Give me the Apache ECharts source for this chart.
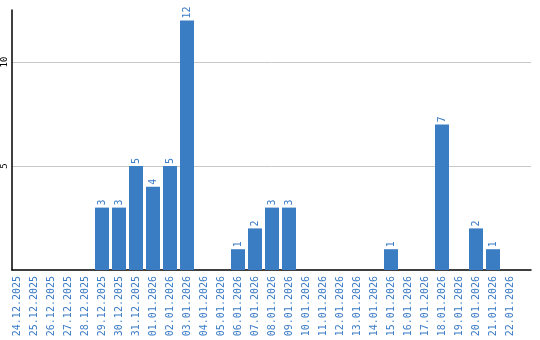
<!DOCTYPE html>
<html><head><meta charset="utf-8">
<script src="https://cdn.jsdelivr.net/npm/echarts@6/dist/echarts.min.js"></script>
<style>html,body{margin:0;padding:0;background:#fff}#c{width:540px;height:340px}</style>
</head><body><div id="c"></div>
<script>
const categories = ["24.12.2025","25.12.2025","26.12.2025","27.12.2025","28.12.2025","29.12.2025","30.12.2025","31.12.2025","01.01.2026","02.01.2026","03.01.2026","04.01.2026","05.01.2026","06.01.2026","07.01.2026","08.01.2026","09.01.2026","10.01.2026","11.01.2026","12.01.2026","13.01.2026","14.01.2026","15.01.2026","16.01.2026","17.01.2026","18.01.2026","19.01.2026","20.01.2026","21.01.2026","22.01.2026"];
const values = [0,0,0,0,0,3,3,5,4,5,12,0,0,1,2,3,3,0,0,0,0,0,1,0,0,7,0,2,1,0];
const yTicks = [5,10];

const chart = echarts.init(document.getElementById('c'), null, {renderer:'canvas'});
const font = "'DejaVu Sans Mono', monospace";
chart.setOption({
  animation:false,
  backgroundColor:'#fff',
  grid:[
    {left:10, right:9, top:10, bottom:70},
    {left:8.5, width:510, top:10, bottom:70}
  ],
  xAxis:[
    {gridIndex:0, type:'value', min:0, max:1, axisLine:{show:true, onZero:false, lineStyle:{color:'#000', width:1.5}}, axisTick:{show:false}, axisLabel:{show:false}, splitLine:{show:false}},
    {gridIndex:1, type:'category', data:categories, boundaryGap:true, axisLine:{show:false}, axisTick:{show:false},
     axisLabel:{interval:0, rotate:90, margin:6, color:'#3a7bc6', fontSize:10, fontFamily:font}}
  ],
  yAxis:[
    {gridIndex:0, type:'value', min:0, max:12.5, interval:5, axisLine:{show:true, lineStyle:{color:'#000', width:1.5}}, axisTick:{show:false},
     splitLine:{show:true, showMaxLine:false, showMinLine:false, lineStyle:{color:'#c8c8c8', width:1}},
     axisLabel:{rotate:90, margin:3, fontSize:9, color:'#000', fontFamily:font, showMinLabel:false, showMaxLabel:false,
       formatter:v => yTicks.includes(v) ? String(v) : ''}},
    {gridIndex:1, type:'value', min:0, max:12.5, show:false}
  ],
  series:[{
    type:'bar', xAxisIndex:1, yAxisIndex:1, data:values, barWidth:14,
    itemStyle:{color:'#3b7dc3'},
    label:{show:true, position:'top', rotate:90, align:'left', verticalAlign:'middle', distance:2, color:'#3a7bc6', fontSize:10, fontFamily:font,
      formatter:p => p.value ? String(p.value) : ''}
  }]
});
</script></body></html>
